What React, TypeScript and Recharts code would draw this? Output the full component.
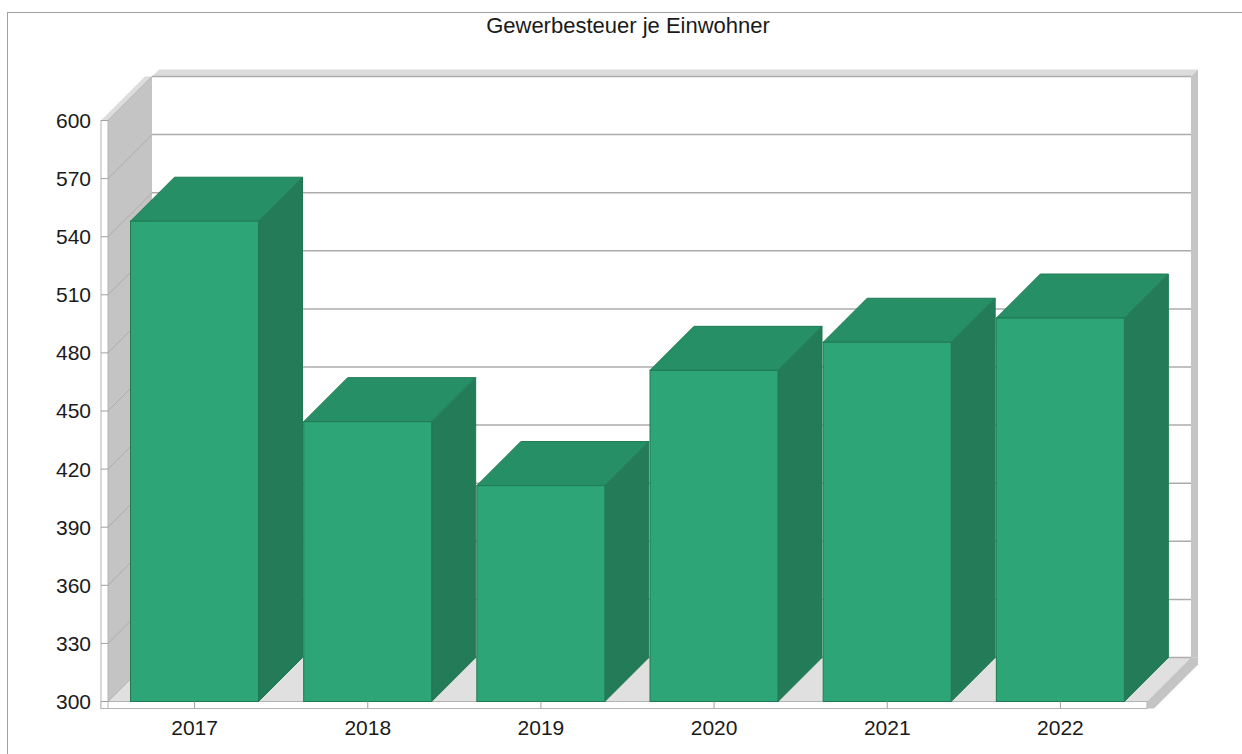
import { BarChart, Bar, XAxis, YAxis, CartesianGrid } from 'recharts'

const years = ['2017', '2018', '2019', '2020', '2021', '2022']
const gewerbesteuer = [548, 444.5, 411.5, 471, 485.5, 498]
const yTicks = [300, 330, 360, 390, 420, 450, 480, 510, 540, 570, 600]

const data = years.map((year, i) => ({ year, value: gewerbesteuer[i] }))

const FONT = '"Liberation Sans", Arial, sans-serif'
const D = 44 // depth offset of the 3D box
const T = 7 // wall thickness

const FRONT = '#2ea576'
const TOP = '#278f66'
const SIDE = '#237b58'
const EDGE = '#1f7a53'

// 3D bar: front face, top and right side
function Bar3D(props: any) {
  const { x, y, width: w, height: h } = props
  if (w == null || h == null) return null
  return (
    <g>
      <polygon
        points={`${x + w},${y} ${x + w + D},${y - D} ${x + w + D},${y + h - D} ${x + w},${y + h}`}
        fill={SIDE}
        stroke={EDGE}
        strokeWidth={1}
      />
      <polygon
        points={`${x},${y} ${x + D},${y - D} ${x + w + D},${y - D} ${x + w},${y}`}
        fill={TOP}
        stroke={EDGE}
        strokeWidth={1}
      />
      <rect x={x} y={y} width={w} height={h} fill={FRONT} stroke={EDGE} strokeWidth={1} />
    </g>
  )
}

// walls + back grid line, drawn once per y tick
function WallLine(props: any) {
  const { x, y, width, height, y1, index } = props
  const right = x + width
  const bottom = y + height
  return (
    <g key={`wl-${index}`}>
      {index === 0 && (
        <g>
          {/* back wall top face + right face */}
          <polygon
            points={`${x + D},${y - D} ${right + D},${y - D} ${right + D + T},${y - D - T} ${x + D + T},${y - D - T}`}
            fill="#dcdcdc"
          />
          <polygon
            points={`${right + D},${y - D} ${right + D + T},${y - D - T} ${right + D + T},${bottom - D} ${right + D},${bottom - D}`}
            fill="#c4c4c4"
          />
          {/* floor */}
          <polygon
            points={`${x},${bottom} ${right},${bottom} ${right + D},${bottom - D} ${x + D},${bottom - D}`}
            fill="#e0e0e0"
          />
          <polygon
            points={`${right},${bottom} ${right + D},${bottom - D} ${right + D + T},${bottom - D} ${right + D + T},${bottom - D + T} ${right + T},${bottom + T} ${right},${bottom + T}`}
            fill="#c4c4c4"
          />
          <rect x={x - T} y={bottom} width={width + T} height={T} fill="#fff" stroke="#b4b4b4" strokeWidth={1} />
          {/* left side wall */}
          <polygon
            points={`${x},${y} ${x + D},${y - D} ${x + D},${bottom - D} ${x},${bottom}`}
            fill="#c4c4c4"
          />
          <polygon
            points={`${x - T},${y} ${x},${y} ${x + D},${y - D} ${x + D - T},${y - D}`}
            fill="#dcdcdc"
          />
          <rect x={x - T} y={y} width={T} height={height + T} fill="#fff" stroke="#b4b4b4" strokeWidth={1} />
        </g>
      )}
      <line x1={x} y1={y1} x2={x + D} y2={y1 - D} stroke="#acacac" strokeWidth={1} />
      <line x1={x + D} y1={y1 - D} x2={right + D} y2={y1 - D} stroke="#acacac" strokeWidth={1.5} />
    </g>
  )
}

export default function App() {
  return (
    <div style={{ position: 'absolute', left: 0, top: 0, width: 1242, height: 754, overflow: 'hidden', background: '#fff' }}>
      <div
        style={{
          position: 'absolute', left: 7, top: 12, width: 1300, height: 800,
          border: '1px solid #a0a0a0',
        }}
      />
      <div
        style={{
          position: 'absolute', left: 0, top: 13, width: 1256, textAlign: 'center',
          fontFamily: FONT, fontSize: 22, color: '#1a1a1a',
        }}
      >
        Gewerbesteuer je Einwohner
      </div>
      <div style={{ position: 'absolute', left: 0, top: 0 }}>
        <BarChart
          width={1242}
          height={754}
          data={data}
          margin={{ top: 120.5, right: 95, bottom: 22.5, left: 48 }}
          barCategoryGap="13%"
        >
          <CartesianGrid vertical={false} horizontal={WallLine} />
          <XAxis
            dataKey="year"
            height={30}
            interval={0}
            tickSize={7}
            tickMargin={12}
            axisLine={false}
            tickLine={{ stroke: '#a0a0a0' }}
            tick={{ fill: '#1a1a1a', fontSize: 21, fontFamily: FONT }}
          />
          <YAxis
            domain={[300, 600]}
            ticks={yTicks}
            width={60}
            tickSize={7}
            tickMargin={10}
            axisLine={false}
            tickLine={{ stroke: '#a0a0a0' }}
            tick={{ fill: '#1a1a1a', fontSize: 21, fontFamily: FONT }}
          />
          <Bar dataKey="value" shape={Bar3D} isAnimationActive={false} />
        </BarChart>
      </div>
    </div>
  )
}
